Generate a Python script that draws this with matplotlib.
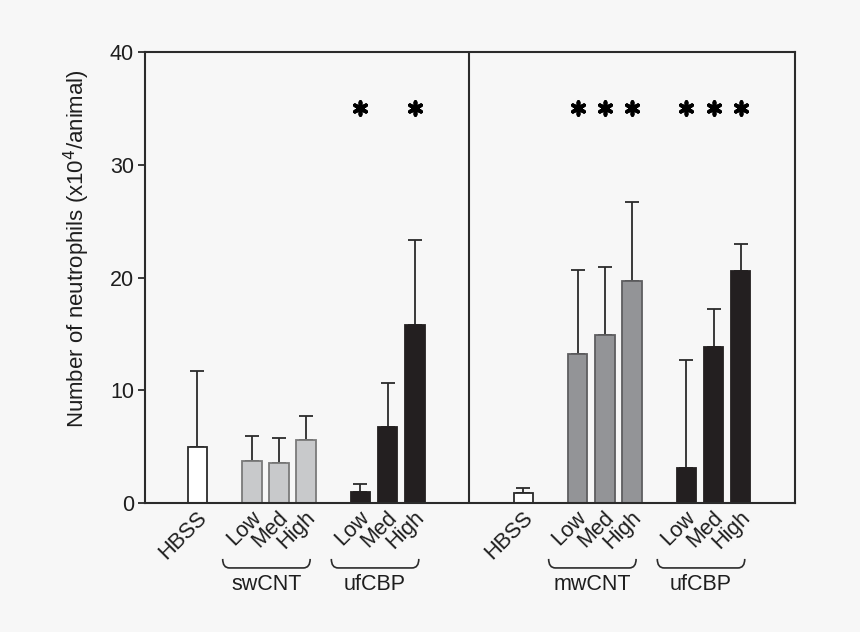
import numpy as np
import matplotlib
matplotlib.use('Agg')
import matplotlib.pyplot as plt
import matplotlib.transforms as mtransforms
from matplotlib.path import Path
from matplotlib.patches import PathPatch

plt.rcParams['font.family'] = ['Liberation Sans', 'DejaVu Sans']

# --- data ---
tick_labels = ['HBSS', 'Low', 'Med', 'High', 'Low', 'Med', 'High',
               'HBSS', 'Low', 'Med', 'High', 'Low', 'Med', 'High']
positions = [0, 2, 3, 4, 6, 7, 8, 12, 14, 15, 16, 18, 19, 20]
means = [5.0, 3.7, 3.55, 5.6, 0.95, 6.75, 15.8,
         0.9, 13.25, 14.9, 19.65, 3.1, 13.8, 20.55]
errors = [6.7, 2.25, 2.2, 2.1, 0.7, 3.9, 7.5,
          0.4, 7.4, 6.0, 7.05, 9.6, 3.45, 2.45]
groups = ['ctrl', 'sw', 'sw', 'sw', 'uf', 'uf', 'uf',
          'ctrl', 'mw', 'mw', 'mw', 'uf', 'uf', 'uf']
group_names = ['swCNT', 'ufCBP', 'mwCNT', 'ufCBP']
group_spans = [(2, 4), (6, 8), (14, 16), (18, 20)]
star_positions = [6, 8, 14, 15, 16, 18, 19, 20]
star_level = 35

fill = {'ctrl': 'white', 'sw': '#c8c9cb', 'mw': '#939497', 'uf': '#231f20'}
edge = {'ctrl': '#2b2b2b', 'sw': '#7a7a7a', 'mw': '#5e5e60', 'uf': '#231f20'}

bg = '#f7f7f7'
ink = '#2b2b2b'
txt = '#1e1e1e'
fs = 15.5

fig = plt.figure(figsize=(8.6, 6.32), dpi=100, facecolor=bg)
ax = fig.add_axes([145 / 860, 129 / 632, 650 / 860, 451 / 632], facecolor=bg)

# error bars (upper only) sit behind the bars
ax.errorbar(positions, means, yerr=[np.zeros(len(errors)), errors], fmt='none',
            ecolor=ink, elinewidth=1.3, capsize=5, capthick=1.3, zorder=1)
ax.bar(positions, means, width=0.72,
       color=[fill[g] for g in groups], edgecolor=[edge[g] for g in groups],
       linewidth=1.3, zorder=2)

# significance asterisks
ax.scatter(star_positions, [star_level] * len(star_positions), marker=(6, 2, 0),
           s=85, linewidths=2.7, color='black', zorder=3)

# panel divider
ax.axvline(10, color=ink, lw=1.5, zorder=3)

ax.set_xlim(-1.93, 22)
ax.set_ylim(0, 40)
ax.set_yticks([0, 10, 20, 30, 40])
ax.tick_params(axis='y', direction='out', length=5, width=1.3, colors=ink,
               labelsize=fs, labelcolor=txt, pad=3)
for s in ax.spines.values():
    s.set_color(ink)
    s.set_linewidth(1.5)

ax.set_xticks(positions, tick_labels)
ax.tick_params(axis='x', length=0, pad=4, labelsize=fs, labelcolor=txt)
shift = mtransforms.ScaledTranslation(6 / 100, -6 / 100, fig.dpi_scale_trans)
for lab in ax.get_xticklabels():
    lab.set_rotation(45)
    lab.set_ha('right')
    lab.set_va('center')
    lab.set_rotation_mode('anchor')
    lab.set_transform(lab.get_transform() + shift)

ax.set_ylabel('Number of neutrophils (x10$^4$/animal)', fontsize=16, color=txt)
ax.yaxis.set_label_coords(-0.082, 0.565)

# brackets under groups
trans = mtransforms.blended_transform_factory(ax.transData, ax.transAxes)
top_y, bot_y, r = -0.124, -0.144, 0.25
for (a, b), name in zip(group_spans, group_names):
    x0, x1 = a - 1.07, b + 0.15
    verts = [(x0, top_y), (x0, bot_y), (x0 + r, bot_y),
             (x1 - r, bot_y), (x1, bot_y), (x1, top_y)]
    codes = [Path.MOVETO, Path.CURVE3, Path.CURVE3,
             Path.LINETO, Path.CURVE3, Path.CURVE3]
    ax.add_patch(PathPatch(Path(verts, codes), transform=trans, fill=False,
                           edgecolor=ink, lw=1.2, clip_on=False))
    ax.text((x0 + x1) / 2, -0.18, name, transform=trans, ha='center', va='center',
            fontsize=fs, color=txt)

fig.savefig('out.png', dpi=100, facecolor=bg)
